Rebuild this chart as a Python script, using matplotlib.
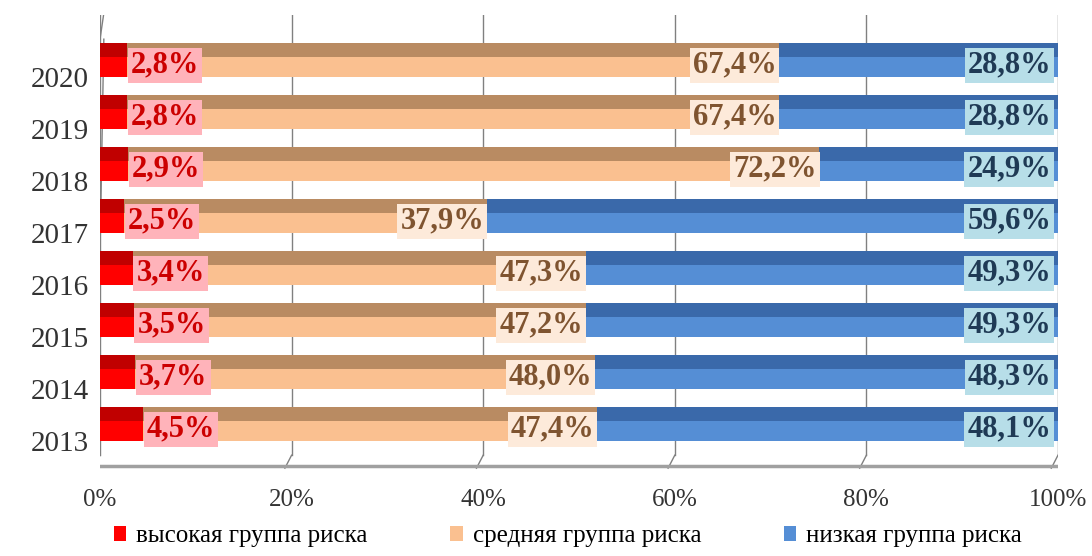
import matplotlib.pyplot as plt
import numpy as np

years = ['2013', '2014', '2015', '2016', '2017', '2018', '2019', '2020']
vysokaya = [4.5, 3.7, 3.5, 3.4, 2.5, 2.9, 2.8, 2.8]
srednyaya = [47.4, 48.0, 47.2, 47.3, 37.9, 72.2, 67.4, 67.4]
nizkaya = [48.1, 48.3, 49.3, 49.3, 59.6, 24.9, 28.8, 28.8]
serii = ['высокая группа риска', 'средняя группа риска', 'низкая группа риска']

plt.rcParams['font.family'] = ['Liberation Serif', 'DejaVu Serif']

# цвета: основной, верхняя грань, фон подписи, текст подписи
cvet = ['#FF0000', '#FAC090', '#558ED5']
verh = ['#C00000', '#B98B62', '#3A69AA']
fon = ['#FFB3BA', '#FDEADA', '#B7DEE8']
tekst = ['#CC0000', '#7F5430', '#1F3A55']

fig = plt.figure(figsize=(10.92, 5.56), dpi=100)
ax = fig.add_axes([100 / 1092, 1 - 470 / 556, 958 / 1092, 455 / 556])

y = np.arange(len(years))
data = np.array([vysokaya, srednyaya, nizkaya])
data = data / data.sum(axis=0) * 100  # 100% с накоплением
h = 0.67

# сетка (задняя стенка + пол)
for gx in range(0, 101, 20):
    ax.plot([gx, gx], [7.9, -0.6], color='#808080', lw=1, zorder=0)
    ax.plot([gx, gx - 0.7], [-0.6, -0.85], color='#808080', lw=1, zorder=0)
ax.plot([-0.4, 100], [-0.8, -0.8], color='#A0A0A0', lw=2.5, zorder=0)
ax.plot([-0.4, 0.4], [-0.8, 7.4], color='#808080', lw=1, zorder=0)
ax.plot([0.0, 0.4], [7.4, 7.9], color='#808080', lw=1, zorder=0)

left = np.zeros(len(years))
for k in range(3):
    ax.barh(y, data[k], left=left, height=h, color=cvet[k], label=serii[k], zorder=2)
    ax.barh(y + h / 2 - 0.14, data[k], left=left, height=0.28, color=verh[k], zorder=3)
    for i in range(len(years)):
        val = [vysokaya, srednyaya, nizkaya][k][i]
        txt = f'{val:.1f}%'.replace('.', ',')
        if k == 0:
            xt, ha = left[i] + data[k][i] + 0.4, 'left'
        elif k == 1:
            xt, ha = left[i] + data[k][i] - 0.3, 'right'
        else:
            xt, ha = 99.3, 'right'
        ax.text(xt, y[i] - 0.1, txt, ha=ha, va='center', fontsize=22, fontweight='bold',
                color=tekst[k], zorder=4,
                bbox=dict(boxstyle='square,pad=0.1', fc=fon[k], ec='none'))
    left = left + data[k]

ax.set_xlim(0, 100)
ax.set_ylim(-0.885, 7.865)
# подписи лет сдвинуты вниз, как в объёмной диаграмме
ax.set_yticks(y - 0.33)
ax.set_yticklabels(years, fontsize=21, color='#333333')
ax.set_xticks(range(0, 101, 20))
ax.set_xticklabels([f'{v}%' for v in range(0, 101, 20)], fontsize=18, color='#333333')
ax.tick_params(axis='both', length=0, pad=8)
ax.tick_params(axis='x', pad=14)
for s in ax.spines.values():
    s.set_visible(False)

fig.legend(loc='lower center', ncol=3, frameon=False,
           prop={'family': 'Liberation Serif', 'size': 18},
           handlelength=0.5, handleheight=0.5, handletextpad=0.4,
           columnspacing=3.3, bbox_to_anchor=(0.52, -0.025))

fig.savefig('out.png', dpi=100)
